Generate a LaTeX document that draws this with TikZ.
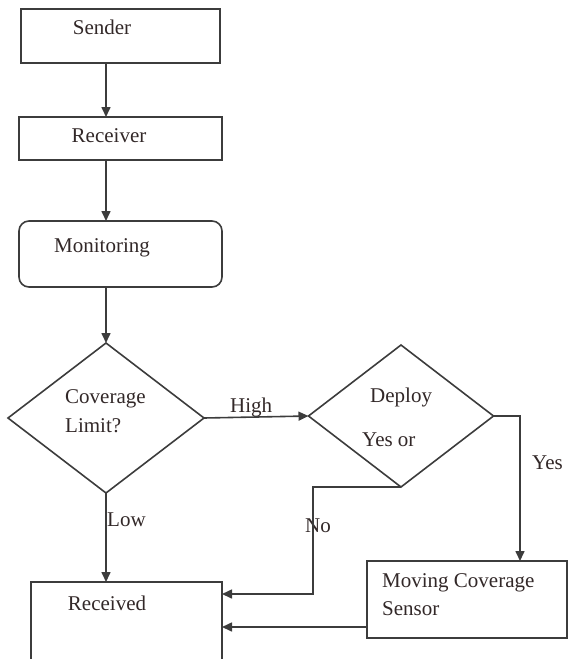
\documentclass[tikz,border=0pt]{standalone}
\usepackage{fontspec}
\setmainfont{Liberation Serif}
\usetikzlibrary{arrows.meta,shapes.geometric,calc}
\definecolor{linec}{RGB}{60,60,60}
\definecolor{textc}{RGB}{50,40,40}
\begin{document}
\begin{tikzpicture}[x=1pt,y=-1pt,
  box/.style={draw=linec,line width=1.6pt,rectangle,inner sep=0pt,outer sep=0pt,anchor=north west},
  dia/.style={draw=linec,line width=1.6pt,diamond,inner sep=0pt,outer sep=0pt},
  txt/.style={anchor=base,inner sep=0pt,text=textc,font=\fontsize{21}{28}\selectfont},
  arr/.style={draw=linec,line width=1.6pt,-{Triangle[length=10pt,width=9pt]}}]
\useasboundingbox (0,0) rectangle (568,659);
\clip (0,0) rectangle (568,659);
% boxes
\node[box,minimum width=199pt,minimum height=54pt] (sender) at (21,9) {};
\node[box,minimum width=203pt,minimum height=43pt] (receiver) at (19,117) {};
\node[box,rounded corners=10pt,minimum width=203pt,minimum height=66pt] (monitor) at (19,221) {};
\node[dia,minimum width=196pt,minimum height=150pt] (d1) at (106,418) {};
\node[dia,minimum width=185pt,minimum height=142pt] (d2) at (401,416) {};
\node[box,minimum width=191pt,minimum height=100pt] (received) at (31,582) {};
\node[box,minimum width=200pt,minimum height=77pt] (moving) at (367,561) {};
% texts
\node[txt] (tsender) at (102,34) {Sender};
\node[txt] (treceiver) at (109,142) {Receiver};
\node[txt] (tmonitor) at (102,252) {Monitoring};
\node[txt,anchor=base west] (tcov) at (65,403) {Coverage};
\node[txt,anchor=base west] (tlim) at (65,432) {Limit?};
\node[txt,anchor=base west] (tdeploy) at (370,402) {Deploy};
\node[txt,anchor=base west] (tyesor) at (362,446) {Yes or};
\node[txt] (treceived) at (107,610) {Received};
\node[txt,anchor=base west] (tmov) at (382,587) {Moving Coverage};
\node[txt,anchor=base west] (tsens) at (382,615) {Sensor};
% connector labels
\node[txt,anchor=base west] (lhigh) at (230,412) {High};
\node[txt,anchor=base west] (llow) at (107,526) {Low};
\node[txt,anchor=base west] (lno) at (305,532) {No};
\node[txt,anchor=base west] (lyes) at (532,469) {Yes};
% connectors
\draw[arr] (sender.south -| d1.north) -- (receiver.north -| d1.north);
\draw[arr] (receiver.south -| d1.north) -- (monitor.north -| d1.north);
\draw[arr] (monitor.south -| d1.north) -- (d1.north);
\draw[arr] (d1.east) -- (d2.west);
\coordinate (yescol) at (520,416);
\draw[arr] (d2.east) -- (yescol) -- (yescol |- moving.north);
\coordinate (nocol) at (313,594);
\draw[arr] (d2.south) -| (nocol) -- (nocol -| received.east);
\coordinate (mvout) at ($(moving.south west)+(0,-11)$);
\draw[arr] (mvout) -- (mvout -| received.east);
\draw[arr] (d1.south) -- (d1.south |- received.north);
\end{tikzpicture}
\end{document}
